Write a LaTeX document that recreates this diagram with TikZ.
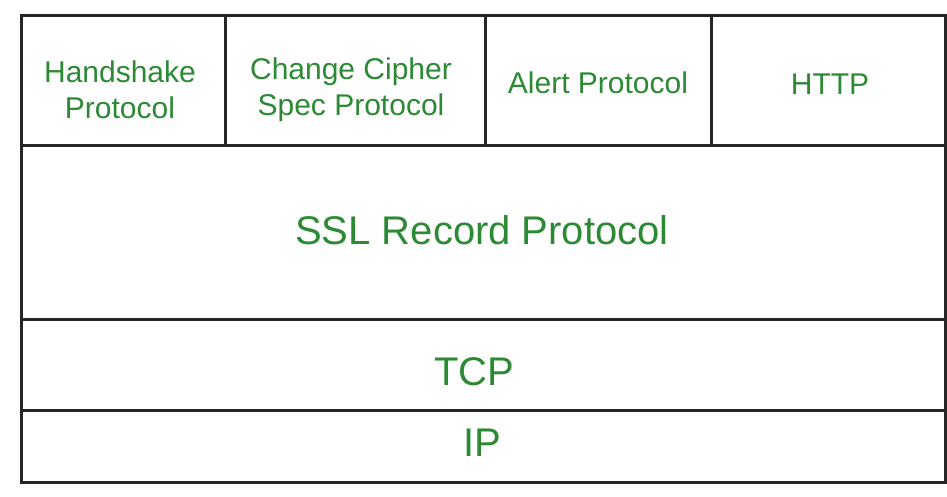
\documentclass[tikz,border=0pt]{standalone}
\usepackage{fontspec}
\setmainfont{Liberation Sans}
\definecolor{txtgreen}{RGB}{44,138,52}
\definecolor{linegray}{RGB}{38,38,38}
\begin{document}
\begin{tikzpicture}[x=1pt,y=-1pt,
  frame/.style={draw=linegray,line width=3pt},
  small/.style={text=txtgreen,align=center,inner sep=0pt,font=\fontsize{30}{36}\selectfont},
  big/.style={text=txtgreen,align=center,inner sep=0pt,font=\fontsize{40}{46}\selectfont}]
\useasboundingbox[fill=white] (0,0) rectangle (947,497);
% frame
\coordinate (tl) at (21,16);
\coordinate (br) at (945,482);
\draw[frame] (tl) rectangle (br);
\coordinate (r1l) at (21,146);  \coordinate (r1r) at (945,146);
\coordinate (r2l) at (21,319);  \coordinate (r2r) at (945,319);
\coordinate (r3l) at (21,410);  \coordinate (r3r) at (945,410);
\draw[frame] (r1l) -- (r1r);
\draw[frame] (r2l) -- (r2r);
\draw[frame] (r3l) -- (r3r);
\coordinate (v1t) at (225,16); \coordinate (v1b) at (225,146);
\coordinate (v2t) at (485,16); \coordinate (v2b) at (485,146);
\coordinate (v3t) at (711,16); \coordinate (v3b) at (711,146);
\draw[frame] (v1t) -- (v1b);
\draw[frame] (v2t) -- (v2b);
\draw[frame] (v3t) -- (v3b);
% labels
\node[small] (hs) at (120,90) {Handshake\\Protocol};
\node[small] (ccs) at (351,90) {Change Cipher\\Spec Protocol};
\node[small] (alert) at (598,83) {Alert Protocol};
\node[small] (http) at (830,84) {HTTP};
\node[big] (ssl) at (482,230) {SSL Record Protocol};
\node[big] (tcp) at (474,372) {TCP};
\node[big] (ip) at (482,443) {IP};
\end{tikzpicture}
\end{document}
